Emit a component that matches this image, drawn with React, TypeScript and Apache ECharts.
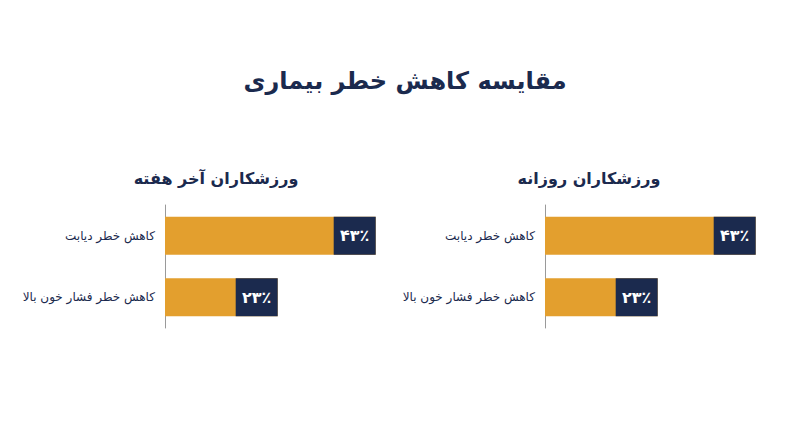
import React, { useEffect, useRef } from 'react';
import * as echarts from 'echarts';

const chartTitle = 'مقایسه کاهش خطر بیماری';
const panelTitles = ['ورزشکاران آخر هفته', 'ورزشکاران روزانه'];
const categories = ['کاهش خطر دیابت', 'کاهش خطر فشار خون بالا'];
const weekendValues = [43, 23];
const dailyValues = [43, 23];

const ORANGE = '#E39F2E';
const NAVY = '#1B2A4E';
const FONT = '"DejaVu Sans", "Noto Sans", sans-serif';

// ارقام فارسی
const faDigits = ['۰', '۱', '۲', '۳', '۴', '۵', '۶', '۷', '۸', '۹'];
const toFa = (n: number) =>
  String(n)
    .split('')
    .map((d) => faDigits[Number(d)] ?? d)
    .join('') + '٪';

const App: React.FC = () => {
  const chartRef = useRef<HTMLDivElement>(null);

  useEffect(() => {
    document.body.style.margin = '0';
    if (!chartRef.current) return;
    const chart = echarts.init(chartRef.current, undefined, { renderer: 'svg' });

    const grids = [
      { left: 165, top: 205, width: 245, height: 123 },
      { left: 545, top: 205, width: 245, height: 123 },
    ];

    const makeSeries = (data: number[], idx: number) => ({
      type: 'bar',
      xAxisIndex: idx,
      yAxisIndex: idx,
      data,
      barWidth: 38,
      itemStyle: { color: ORANGE },
      label: {
        show: true,
        position: 'insideRight',
        distance: 0,
        offset: [-21, 0],
        formatter: (p: any) => toFa(p.value),
        backgroundColor: NAVY,
        color: '#ffffff',
        fontFamily: FONT,
        fontWeight: 'bold',
        fontSize: 16,
        width: 42,
        height: 38,
        lineHeight: 38,
        align: 'center',
        verticalAlign: 'middle',
      },
    });

    const option = {
      animation: false,
      backgroundColor: '#ffffff',
      title: [
        {
          text: chartTitle,
          left: 400,
          top: 64,
          textAlign: 'center',
          textStyle: { fontFamily: FONT, fontSize: 24, fontWeight: 'bold', color: NAVY },
        },
        {
          text: panelTitles[0],
          left: 211,
          top: 165,
          textAlign: 'center',
          textStyle: { fontFamily: FONT, fontSize: 16, fontWeight: 'bold', color: NAVY },
        },
        {
          text: panelTitles[1],
          left: 584,
          top: 165,
          textAlign: 'center',
          textStyle: { fontFamily: FONT, fontSize: 16, fontWeight: 'bold', color: NAVY },
        },
      ],
      grid: grids,
      xAxis: grids.map((_, i) => ({
        type: 'value',
        gridIndex: i,
        min: 0,
        max: 50,
        show: false,
      })),
      yAxis: grids.map((_, i) => ({
        type: 'category',
        gridIndex: i,
        inverse: true,
        data: categories,
        axisLine: { show: true, lineStyle: { color: '#9a9a9a', width: 1 } },
        axisTick: { show: false },
        axisLabel: {
          margin: 10,
          fontFamily: FONT,
          fontSize: 12,
          color: NAVY,
        },
      })),
      series: [makeSeries(weekendValues, 0), makeSeries(dailyValues, 1)],
    };

    chart.setOption(option);
    return () => {
      chart.dispose();
    };
  }, []);

  return <div ref={chartRef} style={{ width: 800, height: 447 }} />;
};

export default App;
